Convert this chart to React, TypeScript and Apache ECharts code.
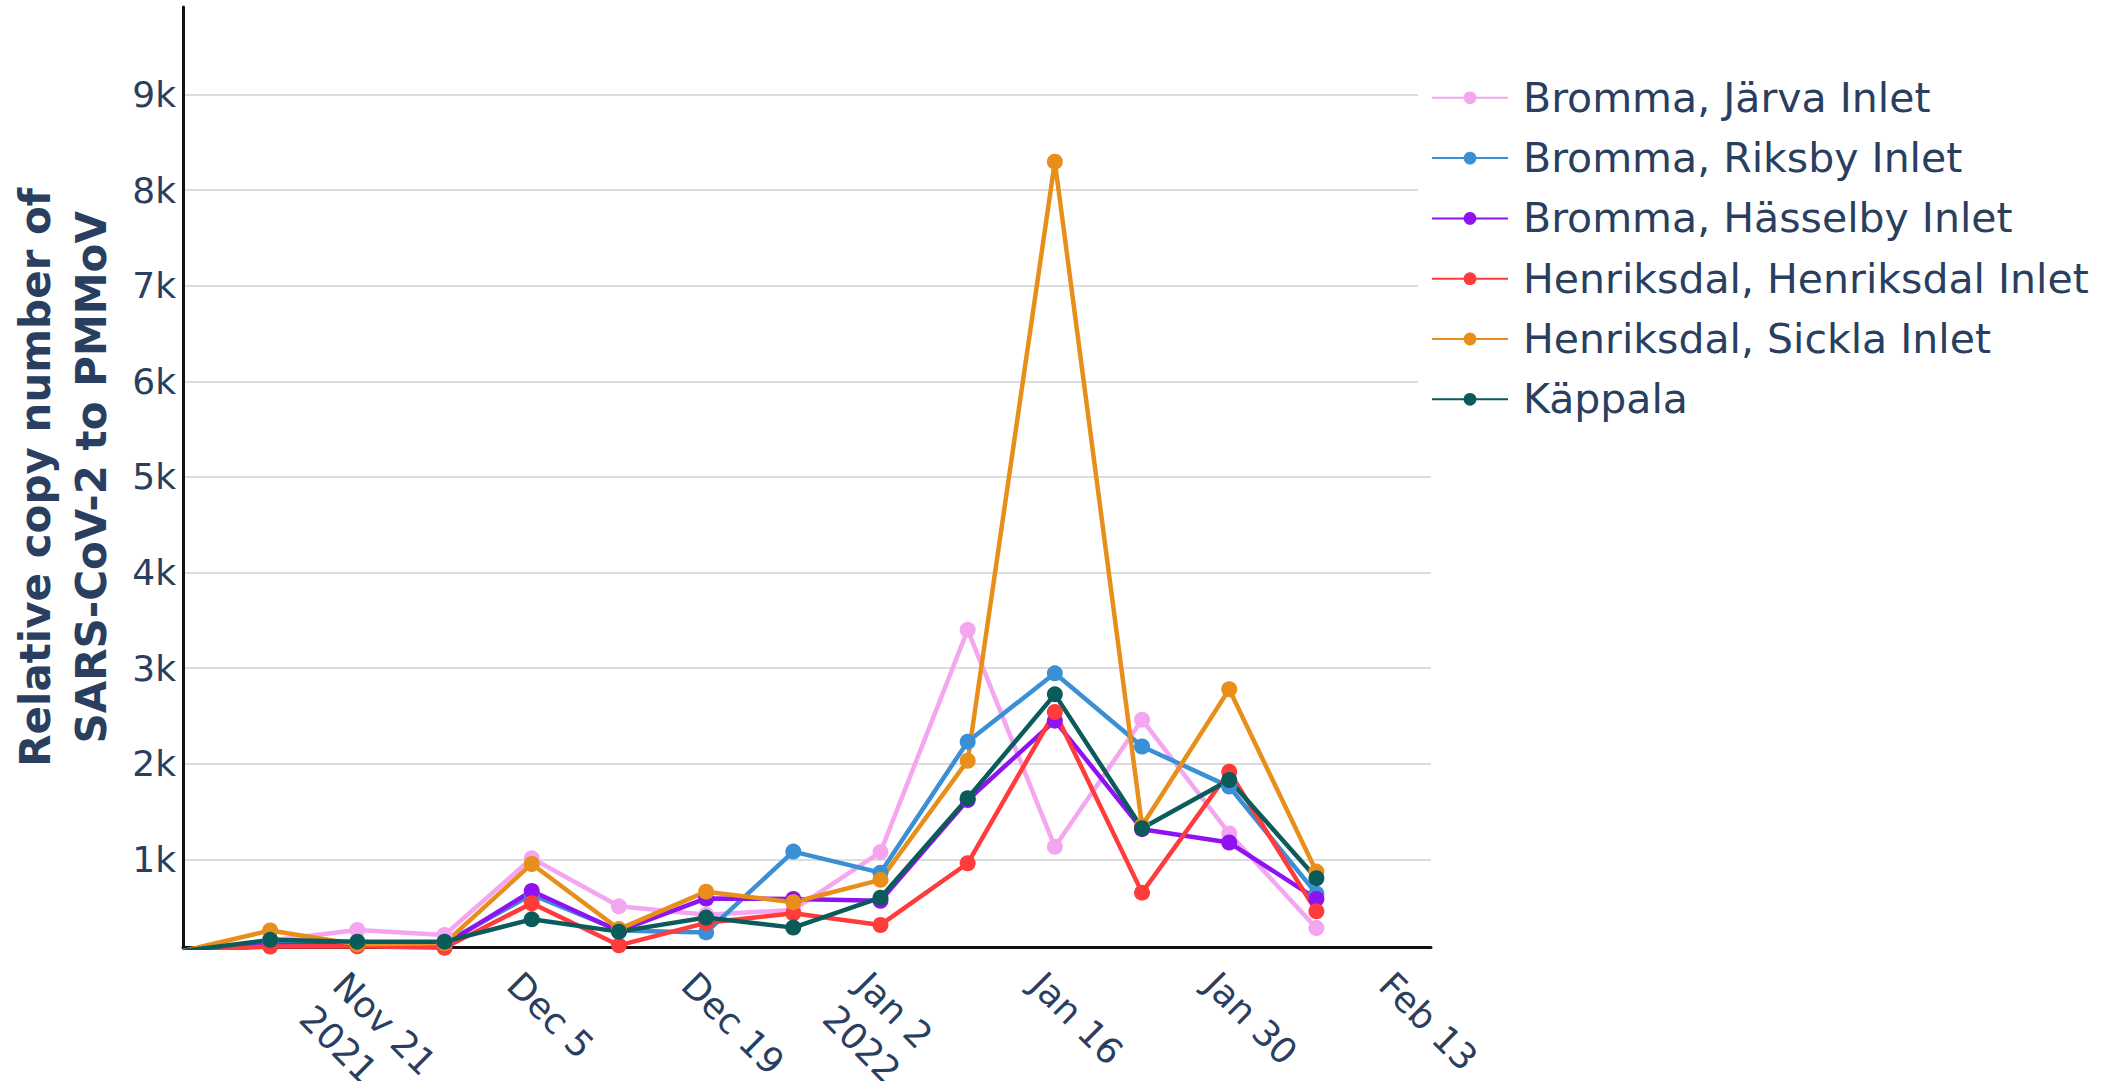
import React, { useEffect, useRef } from 'react';
import * as echarts from 'echarts';

// Sampling dates (weekly)
const dates = [
  '2021-11-07', '2021-11-14', '2021-11-21', '2021-11-28', '2021-12-05', '2021-12-12', '2021-12-19',
  '2021-12-26', '2022-01-02', '2022-01-09', '2022-01-16', '2022-01-23', '2022-01-30', '2022-02-06',
];

const seriesNames = [
  'Bromma, Järva Inlet',
  'Bromma, Riksby Inlet',
  'Bromma, Hässelby Inlet',
  'Henriksdal, Henriksdal Inlet',
  'Henriksdal, Sickla Inlet',
  'Käppala',
];

const jarva = [40, 150, 260, 208, 1010, 508, 420, 470, 1075, 3400, 1130, 2460, 1270, 280];
const riksby = [40, 120, 110, 124, 630, 255, 235, 1080, 860, 2230, 2945, 2180, 1760, 640];
const hasselby = [40, 100, 104, 108, 668, 250, 590, 585, 565, 1620, 2450, 1315, 1175, 585];
const henriksdal = [40, 88, 90, 75, 540, 100, 335, 435, 313, 958, 2540, 651, 1916, 455];
const sickla = [40, 255, 110, 121, 951, 270, 661, 550, 785, 2031, 8297, 1350, 2778, 871];
const kappala = [40, 157, 138, 138, 372, 243, 390, 285, 598, 1638, 2725, 1324, 1829, 801];

const seriesValues = [jarva, riksby, hasselby, henriksdal, sickla, kappala];
const seriesColors = ['#f5a6f0', '#3a8fd5', '#9012f0', '#ff3b3b', '#e88e1a', '#0b5b5b'];

const yTickValues = [1000, 2000, 3000, 4000, 5000, 6000, 7000, 8000, 9000];

const MONTHS = ['Jan', 'Feb', 'Mar', 'Apr', 'May', 'Jun', 'Jul', 'Aug', 'Sep', 'Oct', 'Nov', 'Dec'];
const DAY = 86400000;
const FONT = '"DejaVu Sans", Verdana, sans-serif';
const TEXT = '#2a3f5f';

const base = Date.parse(dates[0] + 'T00:00:00Z');
const dayOffset = (d: string) => Math.round((Date.parse(d + 'T00:00:00Z') - base) / DAY);
const TICK_STEP = 14;

function fmtTick(v: number): string {
  const d = new Date(base + v * DAY);
  const y = d.getUTCFullYear();
  let s = MONTHS[d.getUTCMonth()] + ' ' + d.getUTCDate();
  const prev = new Date(base + (v - TICK_STEP) * DAY);
  if (v - TICK_STEP <= 0 || prev.getUTCFullYear() !== y) s += '\n' + y;
  return s;
}

export default function App() {
  const ref = useRef<HTMLDivElement>(null);

  useEffect(() => {
    if (!ref.current) return;
    const chart = echarts.init(ref.current, undefined, { renderer: 'svg' });

    const series = seriesValues.map((vals, i) => ({
      name: seriesNames[i],
      type: 'line',
      data: dates.map((d, j) => [dayOffset(d), vals[j]]),
      symbol: 'circle',
      symbolSize: 16,
      showSymbol: true,
      clip: true,
      lineStyle: { width: 4.5, color: seriesColors[i] },
      itemStyle: { color: seriesColors[i] },
      emphasis: { disabled: true },
    }));

    chart.setOption({
      animation: false,
      backgroundColor: '#ffffff',
      grid: { left: 183, right: 670, top: 7, bottom: 133.3, outerBoundsMode: 'none', containLabel: false },
      legend: {
        orient: 'vertical',
        left: 1418,
        top: 67.8,
        padding: [8, 5, 8, 13],
        backgroundColor: '#ffffff',
        itemWidth: 76,
        itemHeight: 16,
        itemGap: 16.3,
        selectedMode: false,
        textStyle: {
          fontFamily: FONT,
          fontSize: 41,
          color: TEXT,
          lineHeight: 44,
          padding: [0, 0, 0, 10],
        },
        data: seriesNames,
      },
      xAxis: {
        type: 'value',
        min: 0,
        max: 100.2,
        interval: TICK_STEP,
        axisLine: { show: true, onZero: false, lineStyle: { color: '#111111', width: 3 } },
        axisTick: { show: false },
        splitLine: { show: false },
        axisLabel: {
          showMinLabel: false,
          showMaxLabel: false,
          rotate: -45,
          align: 'left',
          verticalAlign: 'top',
          lineHeight: 47,
          padding: [5.5, 0, 0, 3.5],
          margin: 8,
          fontSize: 36,
          fontFamily: FONT,
          color: TEXT,
          formatter: (v: number) => fmtTick(v),
        },
      },
      yAxis: {
        type: 'value',
        min: 75,
        max: 9915,
        axisLine: { show: true, lineStyle: { color: '#111111', width: 3 } },
        axisTick: { show: false, customValues: yTickValues },
        axisLabel: {
          customValues: yTickValues,
          formatter: (v: number) => v / 1000 + 'k',
          fontSize: 36,
          fontFamily: FONT,
          color: TEXT,
          margin: 7,
        },
        splitLine: { show: true, lineStyle: { color: '#dcdcdc', width: 2 } },
        name: 'Relative copy number of\nSARS-CoV-2 to PMMoV',
        nameLocation: 'middle',
        nameRotate: 90,
        nameGap: 64,
        nameTextStyle: {
          fontFamily: FONT,
          fontSize: 42,
          fontWeight: 'bold',
          color: TEXT,
          lineHeight: 56,
          align: 'center',
        },
      },
      series,
    });

    return () => chart.dispose();
  }, []);

  return (
    <div
      ref={ref}
      style={{ position: 'fixed', left: 0, top: 0, width: '2101px', height: '1081px', background: '#fff' }}
    />
  );
}
